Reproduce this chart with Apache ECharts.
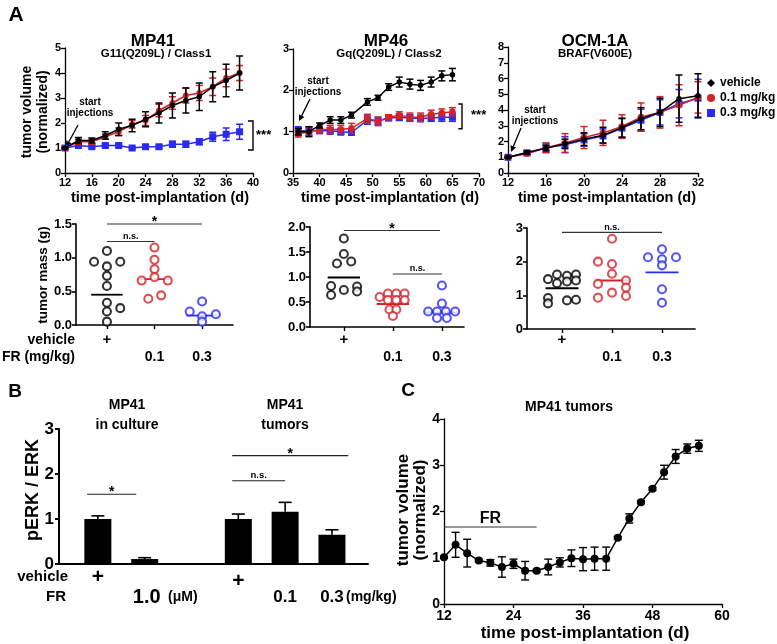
<!DOCTYPE html>
<html><head><meta charset="utf-8">
<script src="https://cdn.jsdelivr.net/npm/echarts@6/dist/echarts.min.js"></script>
<style>html,body{margin:0;padding:0;background:#fff}#c{width:777px;height:644px}</style>
</head><body><div id="c"></div>
<script>
// ---------------- DATA ----------------
// Panel A (top): normalized tumor volume
const mp41Days = [12,14,16,18,20,22,24,26,28,30,32,34,36,38];
const mp41Vehicle = [1.0,1.3,1.3,1.5,1.75,1.9,2.15,2.4,2.7,2.9,3.05,3.45,3.7,4.0];
const mp41VehicleErr = [0.03,0.12,0.1,0.15,0.25,0.25,0.3,0.4,0.5,0.5,0.55,0.6,0.65,0.68];
const mp41Low = [1.0,1.25,1.25,1.45,1.65,1.95,2.1,2.5,2.8,3.1,3.2,3.45,3.8,4.0];
const mp41LowErr = [0.03,0.1,0.1,0.1,0.15,0.15,0.2,0.25,0.25,0.3,0.3,0.35,0.35,0.3];
const mp41High = [1.0,1.1,1.05,1.1,1.1,1.0,1.05,1.05,1.15,1.15,1.25,1.45,1.55,1.65];
const mp41HighErr = [0.05,0.06,0.05,0.05,0.05,0.05,0.05,0.08,0.12,0.12,0.12,0.18,0.25,0.3];

const mp46Days = [36,38,40,42,44,46,49,51,53,55,57,59,61,63,65];
const mp46Vehicle = [1.0,1.0,1.15,1.28,1.28,1.4,1.72,1.82,2.08,2.2,2.15,2.12,2.2,2.35,2.38];
const mp46VehicleErr = [0.08,0.12,0.06,0.08,0.08,0.07,0.08,0.06,0.08,0.12,0.12,0.12,0.12,0.12,0.15];
const mp46Low = [0.95,1.0,1.05,1.05,1.05,1.08,1.32,1.25,1.35,1.4,1.35,1.35,1.42,1.45,1.48];
const mp46LowErr = [0.08,0.1,0.08,0.1,0.1,0.12,0.1,0.1,0.06,0.08,0.1,0.1,0.1,0.1,0.1];
const mp46High = [1.02,1.02,1.02,1.02,1.0,0.98,1.28,1.25,1.33,1.35,1.33,1.32,1.33,1.35,1.35];
const mp46HighErr = [0.1,0.1,0.06,0.08,0.08,0.06,0.1,0.1,0.06,0.08,0.08,0.08,0.08,0.1,0.1];

const ocmDays = [12,14,16,18,20,22,24,26,28,30,32];
const ocmVehicle = [1.0,1.3,1.58,1.85,2.15,2.4,2.88,3.45,3.85,4.72,4.9];
const ocmVehicleErr = [0.05,0.1,0.18,0.3,0.4,0.5,0.6,0.7,0.9,1.5,1.4];
const ocmLow = [1.0,1.22,1.6,1.9,2.25,2.55,2.95,3.55,3.85,4.3,4.8];
const ocmLowErr = [0.05,0.1,0.3,0.6,0.7,0.8,0.75,0.9,1.0,1.3,1.0];
const ocmHigh = [1.0,1.28,1.6,1.8,2.1,2.35,2.85,3.35,3.85,4.4,4.75];
const ocmHighErr = [0.05,0.1,0.3,0.5,0.4,0.45,0.6,0.7,0.8,0.9,1.2];

// Panel A (bottom): tumor mass (g) per animal
const doseCats = [1,2,3];
const doseTopLabels = ['+','',''];
const doseBottomLabels = ['','0.1','0.3'];
const massMP41Vehicle = [1.10,0.94,0.94,0.87,0.73,0.58,0.33,0.20,0.25,0.05];
const massMP41Low = [1.15,0.97,0.83,0.71,0.66,0.66,0.39,0.44];
const massMP41High = [0.35,0.20,0.13,0.16,0.05];
const massMP41Lines = [0.45,0.68,0.14];
const massMP46Vehicle = [1.77,1.46,1.31,1.27,0.82,0.64,0.74,0.81,0.71];
const massMP46Low = [0.60,0.67,0.67,0.67,0.54,0.54,0.54,0.35,0.35,0.22];
const massMP46High = [0.83,0.47,0.31,0.31,0.31,0.31,0.18,0.18];
const massMP46Lines = [0.99,0.46,0.29];
const massOCMVehicle = [1.48,1.62,1.58,1.62,1.36,1.41,1.44,0.92,0.76,0.85,0.87];
const massOCMLow = [2.68,2.0,1.93,1.64,1.34,1.44,1.23,0.98,1.08,0.93];
const massOCMHigh = [2.37,2.13,2.07,2.13,1.89,1.18,0.78];
const massOCMLines = [1.21,1.44,1.68];
// horizontal spread of the swarm (layout only)
const jitMP41Vehicle = [0,-0.27,0.28,0,0,0,0,0,0.28,0];
const jitMP41Low = [0,0,0,0,-0.27,0.28,-0.13,0.14];
const jitMP41High = [0,-0.26,0,0.29,0];
const jitMP46Vehicle = [0,0,0.15,-0.14,-0.26,-0.26,0,0.27,0.27];
const jitMP46Low = [-0.27,-0.1,0.07,0.24,-0.1,0.07,0.24,-0.07,0.07,0];
const jitMP46High = [0,0,-0.28,-0.1,0.08,0.27,-0.1,0.1];
const jitOCMVehicle = [-0.28,-0.1,0.1,0.28,-0.1,0.1,0.28,-0.28,-0.28,0.1,0.28];
const jitOCMLow = [0,-0.28,0,0,-0.28,0.28,0.28,0.28,0,-0.28];
const jitOCMHigh = [0,-0.28,0,0.28,0,0,0];

// Panel B: pERK / ERK
const bPos = [1,2,4,5,6];
const bVals = [1.0,0.11,1.0,1.16,0.65];
const bErr = [0.07,0.03,0.11,0.21,0.11];
const bVehicleLabels = ['+','','+','',''];
const bFRLabels = ['','1.0','','0.1','0.3'];

// Panel C: MP41 tumors
const cDays = [12,14,16,18,20,22,24,26,28,30,32,34,36,38,40,42,44,46,48,50,52,54,56];
const cVals = [1.01,1.28,1.10,0.94,0.89,0.80,0.87,0.72,0.72,0.80,0.90,0.99,0.97,0.98,0.98,1.43,1.85,2.2,2.49,2.85,3.19,3.36,3.42];
const cErr = [0.02,0.27,0.3,0.03,0.07,0.22,0.1,0.2,0.03,0.17,0.1,0.18,0.25,0.25,0.25,0.03,0.1,0.03,0.03,0.15,0.15,0.1,0.12];

// significance annotations
const sigMP41 = [{x1:1,x2:3,y:1.5,label:'*'},{x1:1,x2:2,y:1.24,label:'n.s.'}];
const sigMP46 = [{x1:1,x2:2.96,y:1.93,label:'*'},{x1:2,x2:3,y:1.06,label:'n.s.'}];
const sigOCM = [{x1:1,x2:3,y:2.87,label:'n.s.'}];
const sigB = [{x1:0.77,x2:1.82,y:1.55,label:'*'},{x1:3.87,x2:6.35,y:2.41,label:'*'},{x1:3.87,x2:5.0,y:1.85,label:'n.s.'}];
const fRBar = [{x1:12,x2:28,y:1.665,label:'FR'}];

// ---------------- CHART ----------------
const F = "'Liberation Sans', Arial, Helvetica, sans-serif";
const fnt = (s) => 'bold ' + s + 'px ' + F;
const RED = '#d2232a', BLUE = '#2a2af2', BLACK = '#000';
const chart = echarts.init(document.getElementById('c'), null, {width:777, height:644});

const grids = [
  {left:65, top:48, width:188, height:125},
  {left:293, top:49, width:186, height:124},
  {left:508, top:47, width:190, height:126},
  {left:76, top:224, width:157, height:101},
  {left:310, top:227, width:154, height:100},
  {left:527, top:228, width:168, height:101},
  {left:59, top:429, width:309, height:135},
  {left:444, top:419, width:278, height:185}
].map(g => Object.assign({outerBoundsMode:'none', containLabel:false}, g));

function vAxis(gi, min, max, interval, fs, lw, extra) {
  return Object.assign({
    type:'value', gridIndex:gi, min, max, interval,
    axisLine:{show:true, onZero:false, lineStyle:{color:'#000', width:lw}},
    axisTick:{show:true, length:4, lineStyle:{color:'#000', width:lw}},
    splitLine:{show:false},
    axisLabel:{fontSize:fs, fontWeight:'bold', fontFamily:F, color:'#000', margin:4}
  }, extra || {});
}
const fmt1 = v => v.toFixed(1);
const dotX = (gi, min, max) => vAxis(gi, min, max, null, 12, 1.6, {
  axisLabel:{show:false},
  axisTick:{show:true, length:4, customValues:doseCats, lineStyle:{color:'#000', width:1.4}}
});
const xAxes = [
  vAxis(0,12,40,4,11,1.3),
  vAxis(1,35,70,5,11,1.3),
  vAxis(2,12,32,4,11,1.3),
  dotX(3,0.35,3.65),
  dotX(4,0.31,3.45),
  dotX(5,0.3,3.66),
  vAxis(6,0.17,6.77,null,12,2,{axisTick:{show:false}, axisLabel:{show:false}}),
  vAxis(7,12,60,12,14,1.3,{axisLabel:{fontSize:14, fontWeight:'bold', fontFamily:F, color:'#000', margin:5}})
];
const yAxes = [
  vAxis(0,0,5,1,11,1.3),
  vAxis(1,0,3,1,11,1.3),
  vAxis(2,0,8,1,11,1.3),
  vAxis(3,0,1.5,0.5,13,1.6,{axisLabel:{fontSize:13, fontWeight:'bold', fontFamily:F, color:'#000', margin:4, formatter:fmt1}}),
  vAxis(4,0,2,0.5,13,1.6,{axisLabel:{fontSize:13, fontWeight:'bold', fontFamily:F, color:'#000', margin:4, formatter:fmt1}}),
  vAxis(5,0,3,1,13,1.6),
  vAxis(6,0,3,1,17,2,{axisLabel:{fontSize:17, fontWeight:'bold', fontFamily:F, color:'#000', margin:5}}),
  vAxis(7,0,4,1,14,1.3,{axisLabel:{fontSize:14, fontWeight:'bold', fontFamily:F, color:'#000', margin:4}})
];

function lineSer(name, gi, xs, ys, color, symbol, size, z) {
  return {type:'line', name, xAxisIndex:gi, yAxisIndex:gi, z, silent:true, animation:false,
    data: xs.map((x,i)=>[x, ys[i]]), symbol, symbolSize:size, showSymbol:true,
    lineStyle:{color, width:1.5}, itemStyle:{color}, emphasis:{disabled:true}};
}
function errSer(gi, xs, ys, es, color, cap, z, upOnly, lw) {
  return {type:'custom', name:'err', xAxisIndex:gi, yAxisIndex:gi, z, silent:true, animation:false,
    data: xs.map((x,i)=>[x, ys[i], es[i]]), encode:{x:0, y:1},
    renderItem(params, api) {
      const x = api.value(0), y = api.value(1), e = api.value(2);
      const t = api.coord([x, y + e]), b = api.coord([x, upOnly ? y : y - e]);
      const st = {stroke:color, lineWidth:lw || 1.5};
      const ch = [
        {type:'line', shape:{x1:t[0], y1:t[1], x2:b[0], y2:b[1]}, style:st},
        {type:'line', shape:{x1:t[0]-cap, y1:t[1], x2:t[0]+cap, y2:t[1]}, style:st}
      ];
      if (!upOnly) ch.push({type:'line', shape:{x1:b[0]-cap, y1:b[1], x2:b[0]+cap, y2:b[1]}, style:st});
      return {type:'group', children:ch};
    }};
}
function dotSer(gi, cat, vals, jit, color) {
  return {type:'scatter', name:'dots', xAxisIndex:gi, yAxisIndex:gi, z:4, silent:true, animation:false,
    data: vals.map((v,i)=>[cat + jit[i], v]), symbol:'circle', symbolSize:8,
    itemStyle:{color:'#fff', borderColor:color, borderWidth:2.1}};
}
function medSer(gi, vals, colors) {
  return {type:'custom', name:'median', xAxisIndex:gi, yAxisIndex:gi, z:3, silent:true, animation:false,
    data: doseCats.map((c,i)=>[c, vals[i]]), encode:{x:0, y:1},
    renderItem(params, api) {
      const c = api.value(0), v = api.value(1);
      const a = api.coord([c - 0.33, v]), b = api.coord([c + 0.33, v]);
      return {type:'line', shape:{x1:a[0], y1:a[1], x2:b[0], y2:b[1]}, style:{stroke:colors[params.dataIndex], lineWidth:1.8}};
    }};
}
function sigSer(gi, list, starSize, nsSize, lineColor, lw) {
  return {type:'custom', name:'sig', xAxisIndex:gi, yAxisIndex:gi, z:5, silent:true, animation:false,
    data: list.map(s=>[s.x1, s.y]), encode:{x:0, y:1},
    renderItem(params, api) {
      const s = list[params.dataIndex];
      const p1 = api.coord([s.x1, s.y]), p2 = api.coord([s.x2, s.y]);
      const star = s.label === '*';
      const fs = star ? starSize : (s.label === 'FR' ? 16 : nsSize);
      return {type:'group', children:[
        {type:'line', shape:{x1:p1[0], y1:p1[1], x2:p2[0], y2:p2[1]}, style:{stroke:lineColor || '#333', lineWidth:lw || 1.2}},
        {type:'text', x:(p1[0]+p2[0])/2, y: star ? p1[1] - fs*0.62 : p1[1] - 0.5,
          style:{text:s.label, fill:'#000', font:fnt(fs), align:'center', verticalAlign: star ? 'top' : 'bottom'}}
      ]};
    }};
}
function bracketSer(gi, x, x0, y1, y2, lx, ly) {
  return {type:'custom', name:'bracket', xAxisIndex:gi, yAxisIndex:gi, z:5, silent:true, animation:false,
    data:[[x, y1]], encode:{x:0, y:1},
    renderItem(params, api) {
      const a = api.coord([x, y2]), b = api.coord([x, y1]), a0 = api.coord([x0, y2]), b0 = api.coord([x0, y1]);
      const l = api.coord([lx, ly]);
      const st = {stroke:'#000', lineWidth:1.4};
      return {type:'group', children:[
        {type:'polyline', shape:{points:[[a0[0],a[1]],[a[0],a[1]],[b[0],b[1]],[b0[0],b[1]]]}, style:Object.assign({fill:null}, st)},
        {type:'text', x:l[0], y:l[1], style:{text:'***', fill:'#000', font:fnt(13), align:'left', verticalAlign:'middle'}}
      ]};
    }};
}

const series = [
  // MP41
  errSer(0, mp41Days, mp41High, mp41HighErr, BLUE, 3.5, 2), lineSer('0.3 mg/kg', 0, mp41Days, mp41High, BLUE, 'rect', 7, 3),
  errSer(0, mp41Days, mp41Low, mp41LowErr, RED, 3.5, 4), lineSer('0.1 mg/kg', 0, mp41Days, mp41Low, RED, 'circle', 6, 5),
  errSer(0, mp41Days, mp41Vehicle, mp41VehicleErr, BLACK, 3.5, 6), lineSer('vehicle', 0, mp41Days, mp41Vehicle, BLACK, 'circle', 5.5, 7),
  bracketSer(0, 40, 39.25, 0.92, 2.08, 40.45, 1.5),
  // MP46
  errSer(1, mp46Days, mp46High, mp46HighErr, BLUE, 3.5, 2), lineSer('0.3 mg/kg', 1, mp46Days, mp46High, BLUE, 'rect', 7, 3),
  errSer(1, mp46Days, mp46Low, mp46LowErr, RED, 3.5, 4), lineSer('0.1 mg/kg', 1, mp46Days, mp46Low, RED, 'circle', 6.5, 5),
  errSer(1, mp46Days, mp46Vehicle, mp46VehicleErr, BLACK, 3.5, 6), lineSer('vehicle', 1, mp46Days, mp46Vehicle, BLACK, 'circle', 5.5, 7),
  bracketSer(1, 66.8, 66.1, 1.07, 1.67, 68.5, 1.4),
  // OCM-1A
  errSer(2, ocmDays, ocmHigh, ocmHighErr, BLUE, 3.5, 2), lineSer('0.3 mg/kg', 2, ocmDays, ocmHigh, BLUE, 'rect', 7, 3),
  errSer(2, ocmDays, ocmLow, ocmLowErr, RED, 3.5, 4), lineSer('0.1 mg/kg', 2, ocmDays, ocmLow, RED, 'circle', 6.5, 5),
  errSer(2, ocmDays, ocmVehicle, ocmVehicleErr, BLACK, 3.5, 6), lineSer('vehicle', 2, ocmDays, ocmVehicle, BLACK, 'circle', 5.5, 7),
  // dot plots
  dotSer(3, 1, massMP41Vehicle, jitMP41Vehicle, BLACK), dotSer(3, 2, massMP41Low, jitMP41Low, RED), dotSer(3, 3, massMP41High, jitMP41High, BLUE),
  medSer(3, massMP41Lines, [BLACK, RED, BLUE]), sigSer(3, sigMP41, 14, 9),
  dotSer(4, 1, massMP46Vehicle, jitMP46Vehicle, BLACK), dotSer(4, 2, massMP46Low, jitMP46Low, RED), dotSer(4, 3, massMP46High, jitMP46High, BLUE),
  medSer(4, massMP46Lines, [BLACK, RED, BLUE]), sigSer(4, sigMP46, 14, 9),
  dotSer(5, 1, massOCMVehicle, jitOCMVehicle, BLACK), dotSer(5, 2, massOCMLow, jitOCMLow, RED), dotSer(5, 3, massOCMHigh, jitOCMHigh, BLUE),
  medSer(5, massOCMLines, [BLACK, RED, BLUE]), sigSer(5, sigOCM, 14, 9),
  // B bars
  {type:'bar', name:'pERK', xAxisIndex:6, yAxisIndex:6, z:2, silent:true, animation:false,
    data: bPos.map((x,i)=>[x, bVals[i]]), barWidth:27, itemStyle:{color:'#000'}},
  errSer(6, bPos, bVals, bErr, BLACK, 6.5, 3, true, 1.6),
  sigSer(6, sigB, 14, 9.5, '#222', 1.2),
  // C
  errSer(7, cDays, cVals, cErr, BLACK, 4, 2, false, 1.4),
  lineSer('MP41 tumors', 7, cDays, cVals, BLACK, 'circle', 8, 3),
  sigSer(7, fRBar, 14, 16, '#333', 1.2)
];

function txt(t, x, y, fs, opts) {
  const o = opts || {};
  return {type:'text', x, y, rotation:o.rot || 0, silent:true, z:10,
    style:{text:t, font:fnt(fs), fill:'#000', align:o.align || 'center', verticalAlign:o.va || 'middle'}};
}
function arrow(x0, y0, x1, y1) {
  const dx = x1 - x0, dy = y1 - y0, L = Math.hypot(dx, dy), ux = dx / L, uy = dy / L;
  const hl = 6, hw = 3;
  const bx = x1 - ux * hl, by = y1 - uy * hl;
  return [
    {type:'line', silent:true, shape:{x1:x0, y1:y0, x2:bx, y2:by}, style:{stroke:'#000', lineWidth:1.3}},
    {type:'polygon', silent:true, shape:{points:[[x1,y1],[bx - uy*hw, by + ux*hw],[bx + uy*hw, by - ux*hw]]}, style:{fill:'#000'}}
  ];
}
const R = Math.PI / 2;
let graphics = [
  txt('A', 16, 15, 21), txt('B', 15, 392, 19), txt('C', 408, 391, 19),
  txt('MP41', 153, 41, 17), txt('G11(Q209L) / Class1', 156, 54, 11.5),
  txt('MP46', 386, 41, 17), txt('Gq(Q209L) / Class2', 389, 54, 11.5),
  txt('OCM-1A', 595, 41, 17), txt('BRAF(V600E)', 595, 54, 11.5),
  txt('time post-implantation (d)', 160, 198, 14.5), txt('time post-implantation (d)', 390, 198, 14.5),
  txt('time post-implantation (d)', 607, 198, 14.5),
  txt('tumor volume', 27, 112, 14, {rot:R}), txt('(normalized)', 43, 112, 14, {rot:R}),
  txt('start', 90, 102, 10), txt('injections', 90, 113, 10),
  txt('start', 318, 81, 10), txt('injections', 318, 92, 10),
  txt('start', 535, 110, 10), txt('injections', 535, 121, 10),
  ...arrow(78, 125, 66, 147), ...arrow(310, 99, 299, 121), ...arrow(521, 128, 511, 152),
  txt('tumor mass (g)', 43, 275, 13.5, {rot:R}),
  txt('vehicle', 75, 340, 14, {align:'right'}), txt('FR (mg/kg)', 75, 357, 14, {align:'right'}),
  txt('MP41', 127, 405, 14), txt('in culture', 127, 425, 14),
  txt('MP41', 285, 405, 14), txt('tumors', 285, 425, 14),
  txt('pERK / ERK', 33, 490, 18, {rot:R}),
  txt('vehicle', 68, 577, 15, {align:'right'}), txt('FR', 66, 597, 15, {align:'right'}),
  txt('(μM)', 168, 597, 14, {align:'left'}), txt('(mg/kg)', 346, 597, 14, {align:'left'}),
  txt('MP41 tumors', 569, 407, 14),
  txt('tumor volume', 403, 510, 17, {rot:R}), txt('(normalized)', 420, 510, 17, {rot:R}),
  txt('time post-implantation (d)', 585, 633, 17)
];

chart.setOption({
  animation:false,
  backgroundColor:'#fff',
  grid: grids, xAxis: xAxes, yAxis: yAxes, series,
  legend:{show:true, orient:'vertical', left:707, top:77, itemWidth:8, itemHeight:8, itemGap:3,
    selectedMode:false, padding:0,
    textStyle:{fontSize:12, fontWeight:'bold', fontFamily:F, color:'#000'},
    data:[{name:'vehicle', icon:'diamond'}, {name:'0.1 mg/kg', icon:'circle'}, {name:'0.3 mg/kg', icon:'rect'}]},
  graphic:{elements:graphics}
});

// category labels placed through the axes' own scales
[3,4,5].forEach(gi => {
  doseCats.forEach((c,i) => {
    const p = chart.convertToPixel({gridIndex:gi}, [c, 0]);
    if (doseTopLabels[i]) graphics.push(txt(doseTopLabels[i], p[0], 340, 15));
    if (doseBottomLabels[i]) graphics.push(txt(doseBottomLabels[i], p[0], 357, 14));
  });
});
bPos.forEach((x,i) => {
  const p = chart.convertToPixel({gridIndex:6}, [x, 0]);
  if (bVehicleLabels[i]) graphics.push(txt(bVehicleLabels[i], p[0], i === 0 ? 577 : 581, 21));
  if (bFRLabels[i]) graphics.push(txt(bFRLabels[i], p[0] + (i === 1 ? 2 : 0), 597, i === 1 ? 20 : 17));
});
chart.setOption({graphic:{elements:graphics}}, {replaceMerge:['graphic']});
</script></body></html>
